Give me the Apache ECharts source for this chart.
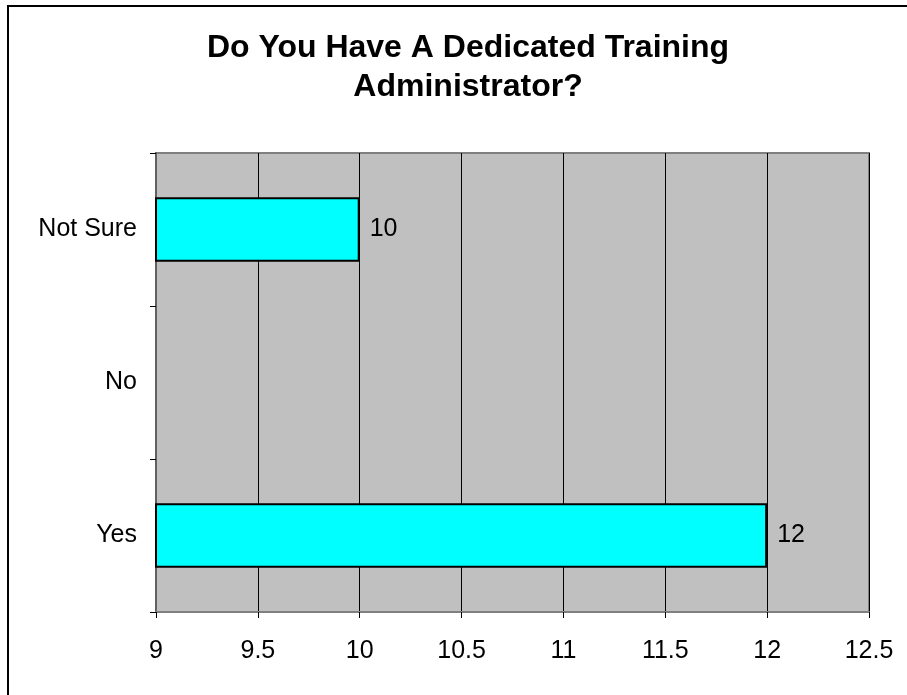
<!DOCTYPE html>
<html>
<head>
<meta charset="utf-8">
<script src="https://cdn.jsdelivr.net/npm/echarts@6/dist/echarts.min.js"></script>
<style>
    html, body { margin: 0; padding: 0; background: #fff; }
    #chart { width: 907px; height: 695px; }
</style>
</head>
<body>
<div id="chart"></div>
<script>
    // bottom to top, as drawn
    var categories = ["Yes", "No", "Not Sure"];
    var answers = [12, null, 10];
    var xTicks = { min: 9, max: 12.5, step: 0.5 };

    var chart = echarts.init(document.getElementById("chart"));

    var option = {
        animation: false,
        title: {
            text: "Do You Have A Dedicated Training\nAdministrator?",
            left: 463,
            textAlign: "center",
            top: 24,
            textStyle: {
                fontFamily: "Liberation Sans",
                fontSize: 32,
                fontWeight: "bold",
                color: "#000",
                lineHeight: 39
            }
        },
        graphic: [{
            type: "rect",
            shape: { x: 8, y: 6, width: 910, height: 700 },
            style: { fill: null, stroke: "#000", lineWidth: 2 },
            silent: true
        }],
        grid: {
            left: 156,
            right: 38,
            top: 153,
            bottom: 83,
            show: true,
            backgroundColor: "#C0C0C0",
            borderColor: "#808080",
            borderWidth: 2
        },
        xAxis: {
            type: "value",
            min: xTicks.min,
            max: xTicks.max,
            interval: xTicks.step,
            axisLine: { show: true, lineStyle: { color: "#808080", width: 2 } },
            axisTick: { show: true, length: 6, lineStyle: { color: "#000" } },
            axisLabel: {
                fontFamily: "Liberation Sans",
                fontSize: 25,
                color: "#000",
                margin: 27
            },
            splitLine: { show: true, lineStyle: { color: "#000", width: 1 } }
        },
        yAxis: {
            type: "category",
            data: categories,
            axisLine: { show: true, lineStyle: { color: "#606060", width: 2 } },
            axisTick: { show: true, length: 6, lineStyle: { color: "#000" } },
            axisLabel: {
                fontFamily: "Liberation Sans",
                fontSize: 25,
                color: "#000",
                margin: 19
            }
        },
        series: [{
            type: "bar",
            data: answers,
            barWidth: "42%",
            itemStyle: {
                color: "#00FFFF",
                borderColor: "#000",
                borderWidth: 2
            },
            label: {
                show: true,
                position: "right",
                distance: 10,
                fontFamily: "Liberation Sans",
                fontSize: 25,
                color: "#000"
            }
        }]
    };

    chart.setOption(option);
</script>
</body>
</html>
